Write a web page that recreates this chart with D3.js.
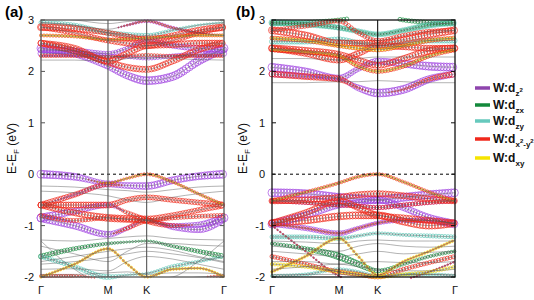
<!DOCTYPE html>
<html>
<head>
<meta charset="utf-8">
<script src="https://cdn.jsdelivr.net/npm/d3@7"></script>
<style>
  body { margin: 0; background: #fff; }
  svg { display: block; font-family: "Liberation Sans", Arial, sans-serif; }
</style>
</head>
<body>
<div id="chart"></div>
<script>
// k-path nodes: Γ, ½ΓM, M, ½MK, K, ⅓KΓ, ⅔KΓ, Γ
const kNodes = [0, 0.433, 0.866, 1.116, 1.366, 1.699, 2.033, 2.366];
const kTicks = [0, 0.866, 1.366, 2.366];
const kLabels = ["Γ", "M", "K", "Γ"];
const eTicks = [3, 2, 1, 0, -1, -2];

const orbitalNames = ["z²", "zx", "zy", "x²-y²", "xy"];
const orbitalColors = ["#a044e0", "#13893b", "#5fc8b8", "#ee2a1a", "#f2d80c"];
const legendColors = ["#8e44ad", "#13893b", "#66c9bd", "#f0281c", "#f6e400"];

// panel (a) band energies (eV) at kNodes
const bandsA = [
  [2.45, 2.35, 2.1, 1.92, 1.82, 1.9, 2.2, 2.45],
  [2.42, 2.4, 2.35, 2.45, 2.6, 2.5, 2.45, 2.42],
  [2.55, 2.4, 2.18, 2.08, 2.04, 2.2, 2.42, 2.55],
  [2.55, 2.45, 2.2, 2.35, 2.5, 2.52, 2.55, 2.55],
  [2.86, 2.83, 2.75, 2.68, 2.62, 2.7, 2.8, 2.86],
  [2.86, 2.75, 2.6, 2.55, 2.5, 2.6, 2.75, 2.86],
  [2.3, 2.3, 2.28, 2.3, 2.32, 2.3, 2.3, 2.3],
  [2.22, 2.22, 2.2, 2.25, 2.28, 2.25, 2.23, 2.22],
  [2.95, 2.9, 2.75, 2.72, 2.7, 2.8, 2.9, 2.95],
  [2.7, 2.68, 2.62, 2.63, 2.65, 2.68, 2.7, 2.7],
  [3.05, 3.0, 2.93, 2.97, 3.0, 3.0, 3.05, 3.1],
  [2.95, 2.9, 2.82, 2.9, 2.98, 2.85, 2.75, 2.7],
  [2.35, 2.34, 2.3, 2.28, 2.25, 2.3, 2.33, 2.35],
  [0.0, -0.05, -0.17, -0.08, 0.0, -0.15, -0.38, -0.6],
  [-0.6, -0.4, -0.2, -0.22, -0.23, -0.12, -0.04, 0.0],
  [-0.6, -0.6, -0.6, -0.5, -0.45, -0.5, -0.55, -0.6],
  [-0.6, -0.75, -0.85, -0.87, -0.88, -0.8, -0.7, -0.6],
  [-0.85, -0.72, -0.6, -0.75, -0.9, -1.0, -0.98, -0.85],
  [-0.85, -1.0, -1.17, -1.05, -0.9, -1.02, -1.08, -0.85],
  [-0.8, -0.9, -0.85, -0.88, -0.9, -0.85, -0.82, -0.8],
  [-0.23, -0.25, -0.3, -0.32, -0.35, -0.3, -0.25, -0.23],
  [-0.33, -0.36, -0.42, -0.5, -0.55, -0.45, -0.38, -0.33],
  [-1.6, -1.45, -1.35, -1.32, -1.3, -1.4, -1.5, -1.6],
  [-1.6, -1.8, -2.0, -1.96, -1.93, -1.8, -1.7, -1.6],
  [-2.0, -1.75, -1.45, -1.75, -2.0, -1.85, -1.83, -2.0],
  [-1.28, -1.3, -1.25, -1.22, -1.2, -1.25, -1.27, -1.28],
  [-1.4, -1.55, -1.7, -1.5, -1.35, -1.35, -1.38, -1.4],
  [-1.7, -1.6, -1.5, -1.45, -1.42, -1.48, -1.6, -1.7],
  [-1.85, -1.84, -1.88, -1.7, -1.6, -1.65, -1.75, -1.85],
  [-1.3, -1.85, -2.15, -2.1, -2.05, -2.0, -1.7, -1.3],
  [-1.95, -1.95, -1.92, -1.9, -1.95, -1.92, -1.92, -1.95],
  [-1.98, -1.98, -2.05, -2.1, -2.1, -2.05, -2.0, -1.98],
  [-1.75, -1.7, -1.62, -1.55, -1.5, -1.55, -1.62, -1.72]
];

// panel (a) orbital weights: [band, orbital, weights at kNodes]
const fatA = [
  [0, 0, [4, 3.5, 3, 3.5, 4, 4, 4, 4]],
  [1, 0, [3, 3, 2, 2, 2.5, 2.5, 3, 3]],
  [12, 0, [3, 3, 2, 1.5, 1.5, 2, 2.5, 3]],
  [11, 0, [0, 0, 0, 1, 1.5, 1.5, 1, 0]],
  [13, 0, [4, 3.5, 2, 0, 0, 0, 0, 0]],
  [14, 0, [0, 1.5, 2.5, 3, 3.5, 3.5, 3.5, 4]],
  [17, 0, [4, 3, 2.5, 0, 0, 2, 2.5, 4]],
  [18, 0, [4, 3.5, 3, 2, 0, 3, 3, 4]],
  [22, 1, [2.5, 2, 1.5, 1, 1, 1.5, 2, 2.5]],
  [8, 2, [2, 2, 2.5, 2, 2, 1.5, 1, 1]],
  [23, 2, [2, 2, 2.5, 1, 1, 2, 1.5, 1]],
  [2, 3, [3, 3, 3, 3, 3, 3, 3, 3]],
  [3, 3, [3, 3, 3, 3, 3, 3, 3, 3]],
  [4, 3, [3.5, 3, 2.5, 2.5, 2.5, 2.5, 3, 3.5]],
  [5, 3, [2.5, 2.5, 2.5, 3, 3, 2.5, 2.5, 2.5]],
  [6, 3, [1.5, 1.5, 1.5, 1.5, 1.5, 1.5, 1.5, 1.5]],
  [9, 3, [1.5, 1.5, 1.5, 2, 2, 1.5, 1.5, 1.5]],
  [11, 3, [0, 0, 0, 0.8, 1, 1, 1, 0]],
  [13, 3, [0, 0, 1, 1.2, 1.5, 1.3, 1.3, 1.5]],
  [14, 3, [3, 2.5, 2, 0, 0, 0, 0, 0]],
  [15, 3, [3, 3, 3, 2.5, 2.5, 2.5, 2.5, 3]],
  [16, 3, [3, 3, 3.5, 3.5, 3.5, 2.5, 2.5, 3]],
  [17, 3, [0, 0, 0, 2, 3, 2, 0, 0]],
  [18, 3, [0, 0, 0, 2, 3, 0, 0, 0]],
  [19, 3, [2, 2, 2, 2, 2, 2, 2, 2]],
  [24, 3, [0.8, 0.8, 0.8, 0.8, 0.8, 0.8, 0.8, 0.8]],
  [31, 3, [1.5, 1.5, 0, 0, 0, 0, 0, 1.5]],
  [9, 4, [1, 1, 0.8, 0.8, 0.8, 0.8, 1, 1]],
  [13, 4, [0, 0, 0.6, 0.7, 0.7, 0.7, 0.7, 0.7]],
  [24, 4, [1.2, 1.2, 1.2, 1.2, 1.2, 1.2, 1.2, 1.2]]
];

// panel (b) band energies (eV) at kNodes
const bandsB = [
  [2.08, 2.0, 1.87, 2.05, 2.2, 2.15, 2.1, 2.08],
  [1.95, 1.9, 1.85, 1.68, 1.58, 1.65, 1.85, 1.95],
  [2.45, 2.4, 2.33, 2.22, 2.12, 2.25, 2.4, 2.45],
  [2.45, 2.35, 2.22, 2.35, 2.5, 2.48, 2.45, 2.45],
  [2.8, 2.7, 2.55, 2.55, 2.55, 2.62, 2.72, 2.8],
  [2.95, 2.92, 2.85, 2.78, 2.72, 2.8, 2.9, 2.95],
  [2.92, 2.95, 3.0, 3.05, 3.1, 3.0, 2.95, 2.92],
  [2.65, 2.6, 2.5, 2.45, 2.42, 2.5, 2.6, 2.65],
  [2.58, 2.58, 2.62, 2.55, 2.5, 2.55, 2.6, 2.6],
  [2.8, 2.88, 2.98, 2.75, 2.6, 2.7, 2.78, 2.8],
  [1.78, 1.78, 1.8, 1.8, 1.82, 1.8, 1.78, 1.78],
  [2.25, 2.25, 2.22, 2.25, 2.28, 2.28, 2.28, 2.28],
  [2.42, 2.38, 2.3, 2.1, 2.0, 2.1, 2.3, 2.42],
  [-0.52, -0.35, -0.17, -0.05, 0.0, -0.15, -0.35, -0.53],
  [-0.36, -0.38, -0.45, -0.48, -0.5, -0.45, -0.4, -0.36],
  [-0.52, -0.5, -0.45, -0.4, -0.38, -0.42, -0.48, -0.52],
  [-0.95, -0.75, -0.52, -0.65, -0.8, -0.85, -0.9, -0.95],
  [-0.97, -0.8, -0.6, -0.55, -0.5, -0.65, -0.85, -0.97],
  [-0.95, -0.9, -0.82, -0.8, -0.8, -0.92, -1.0, -0.95],
  [-0.97, -1.05, -1.15, -1.05, -0.95, -0.9, -0.9, -0.97],
  [-0.52, -0.55, -0.6, -0.62, -0.65, -0.6, -0.55, -0.52],
  [-1.22, -1.22, -1.25, -1.2, -1.15, -1.18, -1.2, -1.22],
  [-1.35, -1.45, -1.6, -1.75, -1.88, -1.75, -1.6, -1.5],
  [-1.6, -1.75, -1.9, -1.95, -2.0, -1.85, -1.72, -1.6],
  [-1.9, -1.6, -1.25, -1.6, -1.96, -1.7, -1.5, -1.28],
  [-1.75, -1.8, -1.9, -1.95, -2.0, -1.95, -1.9, -1.8],
  [-1.0, -1.5, -1.98, -2.1, -2.1, -2.05, -1.9, -1.7],
  [-1.3, -1.32, -1.35, -1.3, -1.28, -1.3, -1.3, -1.3],
  [-1.4, -1.45, -1.5, -1.4, -1.35, -1.4, -1.42, -1.4],
  [-1.5, -1.55, -1.6, -1.55, -1.5, -1.55, -1.52, -1.5],
  [-1.7, -1.7, -1.75, -1.72, -1.7, -1.72, -1.72, -1.7],
  [-1.85, -1.8, -1.75, -1.8, -1.85, -1.88, -1.88, -1.85],
  [-1.95, -1.95, -1.95, -1.98, -2.0, -1.96, -1.95, -1.95],
  [-1.98, -1.95, -1.85, -1.9, -1.98, -1.95, -1.95, -1.98]
];

const fatB = [
  [0, 0, [4, 3.5, 3, 2.5, 3, 3.5, 4, 4]],
  [1, 0, [3, 2, 1, 3, 4, 4, 3.5, 3]],
  [14, 0, [4, 4, 4, 4, 4, 4, 4, 4]],
  [17, 0, [4, 3.5, 3, 3, 3, 3, 3.5, 4]],
  [19, 0, [2.5, 2.5, 2.5, 2, 2, 2, 2.5, 2.5]],
  [20, 0, [2, 2, 2, 2, 2, 2, 2, 2]],
  [26, 0, [0.7, 0.7, 0.7, 0.7, 0.7, 0.7, 0.7, 0.7]],
  [5, 1, [2, 2, 2, 1.5, 1.5, 1.5, 2, 2]],
  [6, 1, [2, 2, 2, 2, 2, 2, 2, 2]],
  [22, 1, [1.5, 2, 3.5, 3, 2, 1.5, 1.5, 1.5]],
  [5, 2, [3, 3, 2.5, 2.5, 2.5, 2.5, 3, 3]],
  [8, 2, [2.5, 2.5, 2.5, 2.5, 2.5, 2.5, 2.5, 2.5]],
  [21, 2, [2, 2, 2, 1.5, 1.5, 1.5, 2, 2]],
  [33, 2, [1.5, 1.5, 1.5, 1.5, 1.5, 1.5, 1.5, 1.5]],
  [1, 3, [3, 3, 3, 1, 0, 1, 2, 3]],
  [2, 3, [3.5, 3.5, 3, 3, 3, 3, 3.5, 3.5]],
  [3, 3, [3, 3, 3, 3, 3, 3, 3, 3]],
  [4, 3, [3.5, 3.5, 3, 3, 3, 3, 3.5, 3.5]],
  [7, 3, [2, 2, 2, 2, 2, 2, 2, 2]],
  [9, 3, [2, 2, 2, 2, 2, 2, 2, 2]],
  [12, 3, [2, 2, 2, 2, 2, 2, 2, 2]],
  [13, 3, [2, 1.5, 1.5, 1.5, 1.5, 1.5, 1.5, 2]],
  [15, 3, [3, 3, 3, 3, 3, 3, 3, 3]],
  [16, 3, [3, 3, 3, 3, 3, 3, 3, 3]],
  [18, 3, [3.5, 3.5, 3.5, 3.5, 3.5, 3.5, 3.5, 3.5]],
  [19, 3, [1, 1, 1, 1, 1, 1, 1, 1]],
  [20, 3, [2, 2, 2, 2, 2, 2, 2, 2]],
  [23, 3, [2, 2, 2, 2, 2, 2, 2, 2]],
  [24, 3, [0.7, 0.7, 0.7, 0.7, 0.7, 0.7, 0.7, 0.7]],
  [26, 3, [0.7, 0.7, 0.7, 0.7, 0.7, 0.7, 0.7, 0.7]],
  [7, 4, [1.2, 1.2, 1.5, 1.5, 1.5, 1.2, 1.2, 1.2]],
  [12, 4, [1, 1, 1, 1, 1, 1, 1, 1]],
  [13, 4, [0.7, 0.7, 0.7, 0.7, 0.7, 0.7, 0.7, 0.7]],
  [24, 4, [1.3, 1.3, 1.3, 1.3, 1.3, 1.3, 1.3, 1.3]],
  [25, 4, [1.6, 1.6, 1.6, 1.6, 1.6, 1.6, 1.6, 1.6]]
];

const width = 534, height = 300;
const plotTop = 20, plotBottom = 277;

const svg = d3.select("#chart").append("svg")
  .attr("width", width)
  .attr("height", height);

const y = d3.scaleLinear().domain([-2, 3]).range([plotBottom, plotTop]);

function drawPanel(id, left, right, bands, fat, frameColor, tag, tagX, titleX) {
  const x = d3.scaleLinear().domain([0, kNodes[kNodes.length - 1]]).range([left, right]);
  const g = svg.append("g");

  svg.append("clipPath").attr("id", "clip-" + id)
    .append("rect")
    .attr("x", left).attr("y", plotTop)
    .attr("width", right - left).attr("height", plotBottom - plotTop);

  const line = d3.line()
    .x((d, i) => x(kNodes[i]))
    .y(d => y(d))
    .curve(d3.curveMonotoneX);

  // hidden paths, used for sampling the circle positions
  const hidden = g.append("g").attr("visibility", "hidden");
  const paths = bands.map(b => hidden.append("path").attr("d", line(b)).node());

  const sampleCache = {};
  function samples(bi) {
    if (sampleCache[bi]) return sampleCache[bi];
    const node = paths[bi];
    const L = node.getTotalLength();
    const pts = [];
    let lastX = -Infinity;
    for (let s = 0; s <= L; s += 0.5) {
      const p = node.getPointAtLength(s);
      if (p.x - lastX >= 2.5) {
        pts.push([p.x, p.y]);
        lastX = p.x;
      }
    }
    sampleCache[bi] = pts;
    return pts;
  }

  // fat band circles, orbital by orbital
  const circles = g.append("g");
  orbitalColors.forEach((col, oi) => {
    fat.filter(f => f[1] === oi).forEach(f => {
      const wScale = d3.scaleLinear().domain(kNodes).range(f[2]);
      samples(f[0]).forEach(p => {
        const r = wScale(x.invert(p[0]));
        if (r < 0.4) return;
        if (p[1] < plotTop - 1 || p[1] > plotBottom + 1) return;
        circles.append("circle")
          .attr("cx", p[0]).attr("cy", p[1])
          .attr("r", r)
          .attr("fill", "none")
          .attr("stroke", col)
          .attr("stroke-width", 0.75)
          .attr("stroke-opacity", 0.9);
      });
    });
  });

  // thin band lines
  g.append("g")
    .attr("clip-path", `url(#clip-${id})`)
    .selectAll("path")
    .data(bands)
    .join("path")
    .attr("d", line)
    .attr("fill", "none")
    .attr("stroke", "#555")
    .attr("stroke-opacity", 0.75)
    .attr("stroke-width", 0.6);

  // Fermi level
  g.append("line")
    .attr("x1", left).attr("x2", right)
    .attr("y1", y(0)).attr("y2", y(0))
    .attr("stroke", "#000")
    .attr("stroke-width", 1)
    .attr("stroke-dasharray", "3,3");

  // high-symmetry verticals
  g.selectAll(".kline")
    .data(kTicks.slice(1, -1))
    .join("line")
    .attr("x1", d => x(d)).attr("x2", d => x(d))
    .attr("y1", plotTop).attr("y2", plotBottom)
    .attr("stroke", frameColor)
    .attr("stroke-width", 1.1);

  // frame
  g.append("rect")
    .attr("x", left).attr("y", plotTop)
    .attr("width", right - left).attr("height", plotBottom - plotTop)
    .attr("fill", "none")
    .attr("stroke", frameColor)
    .attr("stroke-width", 1.3);

  // y ticks, left and right, inward
  eTicks.forEach(t => {
    g.append("line").attr("x1", left).attr("x2", left + 4)
      .attr("y1", y(t)).attr("y2", y(t)).attr("stroke", frameColor);
    g.append("line").attr("x1", right - 4).attr("x2", right)
      .attr("y1", y(t)).attr("y2", y(t)).attr("stroke", frameColor);
    g.append("text")
      .attr("x", left - 7).attr("y", y(t) + 4)
      .attr("text-anchor", "end")
      .attr("font-size", 11)
      .attr("fill", "#111")
      .text(t);
  });

  // k labels
  kTicks.forEach((k, i) => {
    g.append("text")
      .attr("x", x(k)).attr("y", 294)
      .attr("text-anchor", "middle")
      .attr("font-size", 11)
      .attr("fill", "#111")
      .text(kLabels[i]);
  });

  // panel tag
  g.append("text")
    .attr("x", tagX).attr("y", 17)
    .attr("font-size", 15)
    .attr("font-weight", "bold")
    .text(tag);

  // y title
  const title = g.append("text")
    .attr("transform", `translate(${titleX},${(plotTop + plotBottom) / 2}) rotate(-90)`)
    .attr("text-anchor", "middle")
    .attr("font-size", 12)
    .attr("fill", "#111");
  title.append("tspan").text("E-E");
  title.append("tspan").attr("font-size", 8).attr("dy", 3).text("F");
  title.append("tspan").attr("dy", -3).text(" (eV)");
}

drawPanel("a", 41, 224, bandsA, fatA, "#555", "(a)", 5, 16);
drawPanel("b", 272, 455, bandsB, fatB, "#111", "(b)", 236, 247);

// legend
const legendY = [88, 105, 121, 139, 158];
const legend = svg.append("g");
orbitalNames.forEach((name, i) => {
  legend.append("line")
    .attr("x1", 475).attr("x2", 490)
    .attr("y1", legendY[i]).attr("y2", legendY[i])
    .attr("stroke", legendColors[i])
    .attr("stroke-width", 3.5);
  const t = legend.append("text")
    .attr("x", 493).attr("y", legendY[i] + 4)
    .attr("font-size", 12)
    .attr("font-weight", "bold")
    .attr("fill", "#111");
  t.append("tspan").text("W:d");
  if (name === "z²") {
    t.append("tspan").attr("font-size", 8).attr("dy", 4).text("z");
    t.append("tspan").attr("font-size", 6).attr("dy", -4).text("2");
  } else if (name === "x²-y²") {
    t.append("tspan").attr("font-size", 8).attr("dy", 4).text("x");
    t.append("tspan").attr("font-size", 6).attr("dy", -4).text("2");
    t.append("tspan").attr("font-size", 8).attr("dy", 4).text("-y");
    t.append("tspan").attr("font-size", 6).attr("dy", -4).text("2");
  } else {
    t.append("tspan").attr("font-size", 8).attr("dy", 4).text(name);
  }
});
</script>
</body>
</html>
